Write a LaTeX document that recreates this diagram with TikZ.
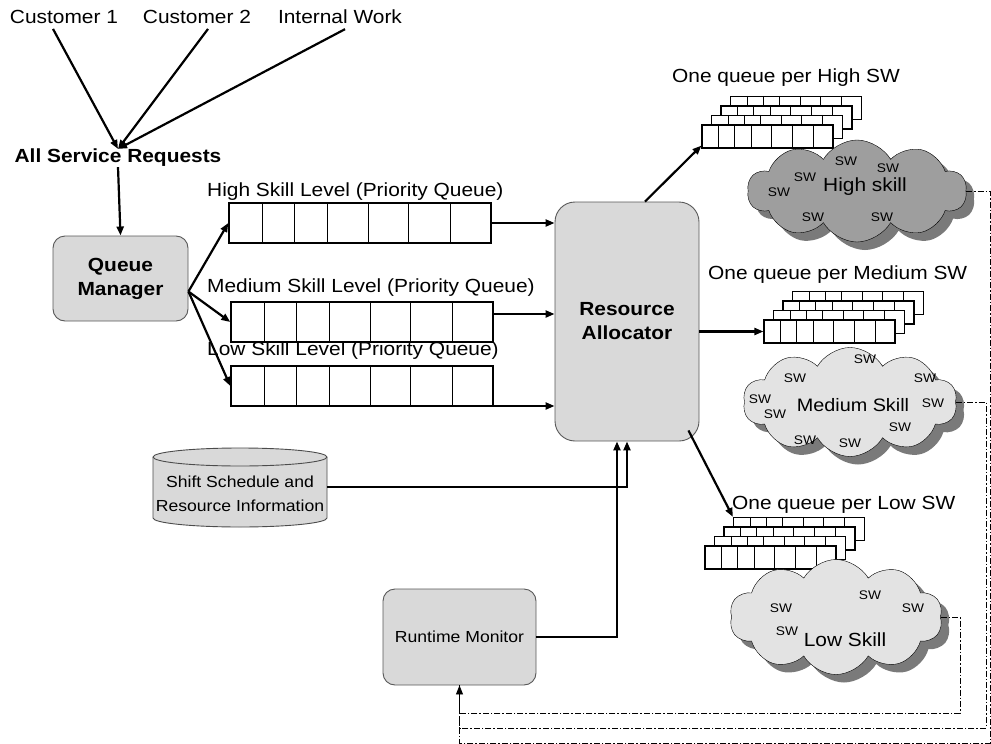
\documentclass[tikz,border=0pt]{standalone}
\usepackage{fontspec}
\setmainfont{Liberation Sans}[FakeStretch=1.1]
\usetikzlibrary{arrows.meta,shapes.symbols,calc}
\definecolor{boxgray}{HTML}{D9D9D9}
\definecolor{cloudlight}{HTML}{E3E3E3}
\definecolor{clouddark}{HTML}{9E9E9E}
\definecolor{shadowgray}{HTML}{7A7A7A}
\newcommand\fbig{\fontsize{19}{24}\selectfont}
\newcommand\fmid{\fontsize{16}{24}\selectfont}
\newcommand\fsw{\fontsize{12.5}{14}\selectfont}
\newcommand\qcells[1]{\foreach \f in {0.13,0.25,0.375,0.53,0.685,0.845}{\draw[qline] ($(#1.north west)!\f!(#1.north east)$) -- ($(#1.south west)!\f!(#1.south east)$);}}
\newcommand\qstack[3]{%
  \foreach \i in {3,2,1}{\node[sbox] (#1\i) at ({#2+65.5+9.5*\i},{#3+11.5-9.5*\i}) {}; \qcells{#1\i}}
  \node[sbox] (#1) at ({#2+65.5},{#3+11.5}) {}; \qcells{#1}}
\begin{document}
\begin{tikzpicture}[x=1pt,y=-1pt,
  conn/.style={line width=2.2pt,-{Triangle[length=9pt,width=7pt]}},
  qline/.style={line width=0.8pt},
  qbox/.style={draw,line width=1.4pt,fill=white,inner sep=0,minimum width=262,minimum height=40},
  sbox/.style={draw,line width=1.2pt,fill=white,inner sep=0,minimum width=131,minimum height=23},
  rbox/.style={draw=black!65,fill=boxgray,rounded corners=12pt,line width=0.9pt,align=center,inner sep=0},
  cl/.style={cloud,cloud puffs=10,cloud puff arc=120,cloud ignores aspect,inner sep=0},
  dd/.style={line width=0.8pt,dash pattern=on 6pt off 2pt on 1.5pt off 2pt},
  txt/.style={inner sep=0,font=\fbig},
  sw/.style={inner sep=0,font=\fsw}]
\useasboundingbox[fill=white] (0,0) rectangle (991,744);

% top inputs
\node[txt] (c1) at (64,17) {Customer 1};
\node[txt] (c2) at (197,17) {Customer 2};
\node[txt] (iw) at (340,17) {Internal Work};
\node[txt,font=\fbig\bfseries] (asr) at (118,158) {All Service Requests};
\draw[conn] ([xshift=-11pt,yshift=-5pt]c1.south) -- (asr.north);
\draw[conn] ([xshift=11pt,yshift=-5pt]c2.south) -- (asr.north);
\draw[conn] ([xshift=5pt,yshift=-5pt]iw.south) -- (asr.north);

% queue manager
\node[rbox,minimum width=135,minimum height=85,font=\fbig\bfseries] (qm) at (120.5,278.5) {Queue\\Manager};
\draw[conn] (asr.south) -- (qm.north);

% priority queues
\node[txt,anchor=west] (ht) at (207,192) {High Skill Level (Priority Queue)};
\node[txt,anchor=west] (mt) at (207,288) {Medium Skill Level (Priority Queue)};
\node[txt,anchor=west] (lt) at (207,351) {Low Skill Level (Priority Queue)};
\node[qbox] (hq) at (360,223) {}; \qcells{hq}
\node[qbox] (mq) at (362,322) {}; \qcells{mq}
\node[qbox] (lq) at (362,386) {}; \qcells{lq}
\draw[conn] ([yshift=-13pt]qm.east) -- (hq.west);
\draw[conn] ([yshift=-13pt]qm.east) -- (mq.west);
\draw[conn] ([yshift=-13pt]qm.east) -- (lq.west);

% resource allocator
\node[rbox,rounded corners=20pt,minimum width=144,minimum height=239,font=\fbig\bfseries] (ra) at (627,321.5) {Resource\\Allocator};
\draw[conn] (hq.east) -- (hq.east -| ra.west);
\draw[conn] ([yshift=8pt]mq.east) -- ([yshift=8pt]mq.east -| ra.west);
\draw[conn] ([yshift=-20pt]lq.east) -- ([yshift=-20pt]lq.east -| ra.west);

% shift schedule cylinder
\path[draw=black!70,fill=boxgray,line width=0.9pt] (153,457) -- (153,518)
  arc[start angle=180,end angle=0,x radius=87,y radius=9] -- (327,457)
  arc[start angle=0,end angle=-180,x radius=87,y radius=9] -- cycle;
\draw[black!70,line width=0.9pt] (153,457) arc[start angle=180,end angle=0,x radius=87,y radius=9];
\node[inner sep=0,minimum width=174,minimum height=60,align=center,font=\fmid] (db) at (240,494) {Shift Schedule and\\Resource Information};
\draw[conn] ([yshift=7pt]db.east) -| (ra.south);

% runtime monitor
\node[rbox,minimum width=153,minimum height=96,font=\fmid] (rm) at (459.5,637) {Runtime Monitor};
\draw[conn] (rm.east) -| ([xshift=-10pt]ra.south);

% queue stacks
\node[txt,anchor=west] (hst) at (672,78) {One queue per High SW};
\node[txt,anchor=west] (mst) at (708,275) {One queue per Medium SW};
\node[txt,anchor=west] (lst) at (732,505) {One queue per Low SW};
\qstack{hs}{702}{125}
\qstack{ms}{764}{320}
\qstack{ls}{705}{546}
\draw[conn] ([xshift=18pt]ra.north) -- ([yshift=3pt]hs.south west);
\draw[conn] (ra.east |- ms.west) -- (ms.west);
\draw[conn] ($(ra.south east)+(-11,-11)$) -- (ls3.north west);

% clouds
\node[cl,fill=shadowgray,minimum width=219,minimum height=102] at (865,199) {};
\node[cl,draw,fill=clouddark,minimum width=219,minimum height=102] (hc) at (857,191) {};
\node[cl,fill=shadowgray,minimum width=214,minimum height=109] at (858,410) {};
\node[cl,draw,fill=cloudlight,minimum width=214,minimum height=109] (mc) at (850,402) {};
\node[cl,fill=shadowgray,minimum width=213,minimum height=115] at (844,625) {};
\node[cl,draw,fill=cloudlight,minimum width=213,minimum height=115] (lc) at (836,617) {};

\node[txt] (hct) at (865,187) {High skill};
\node[txt,font=\fontsize{18}{22}\selectfont] (mct) at (853,405) {Medium Skill};
\node[txt] (lct) at (845,640) {Low Skill};
\foreach \p [count=\k] in {(779,192),(805,177),(846,161),(888,168),(813,217),(882,217),
  (865,359),(795,378),(925,378),(760,399),(775,414),(933,403),(900,427),(805,440),(850,443),
  (870,595),(781,608),(913,608),(787,631)}
  \node[sw] (sw\k) at \p {SW};

% feedback lines
\draw[dd] (hc.east) -| (990,743) -| (rm.south);
\draw[dd] (mc.east) -| (986,728) -| (rm.south);
\draw[dd,-{Triangle[length=9pt,width=7pt]}] (lc.east) -| (960,713) -| (rm.south);
\end{tikzpicture}
\end{document}
